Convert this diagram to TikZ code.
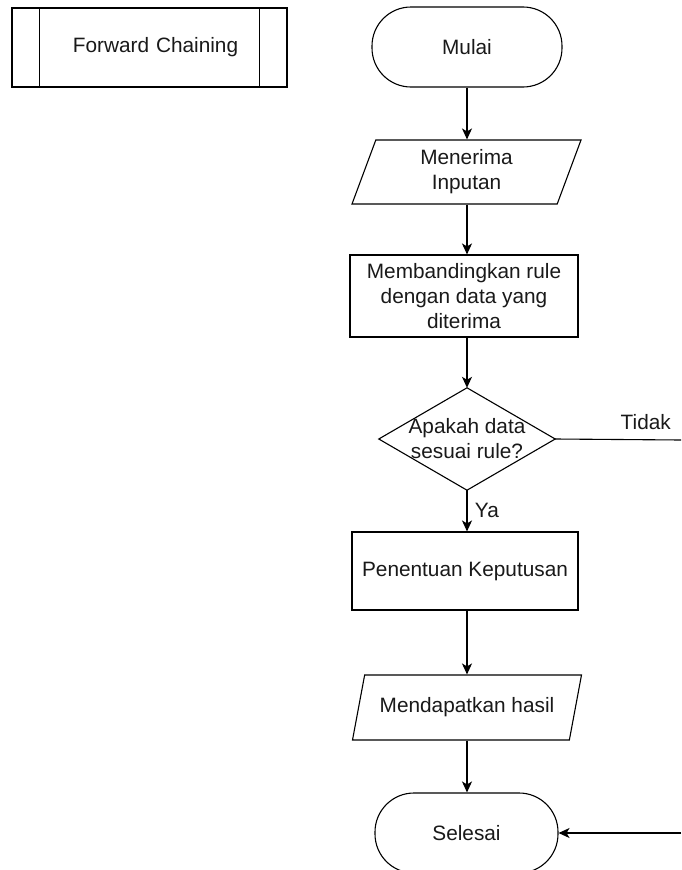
\documentclass[tikz,border=0pt]{standalone}
\usepackage{fontspec}
\setmainfont{Liberation Sans}
\usepackage{tikz}
\usetikzlibrary{calc}
\usetikzlibrary{arrows.meta}
\usetikzlibrary{shapes.geometric}

\begin{document}
\begin{tikzpicture}[x= 1pt, y= -1pt,
	every node/.style= {font= \fontsize{20.8}{25}\selectfont, align= center, text= black!90},
	garis/.style= {line width= 1.1pt},
	terminal/.style= {garis, draw, rectangle, rounded corners= 39pt, minimum width= 188pt, minimum height= 80pt},
	proses/.style= {garis, draw, rectangle, minimum width= 228pt, minimum height= 80pt},
	io/.style= {garis, draw, trapezium, trapezium left angle= 65, trapezium right angle= 115, trapezium stretches body, minimum width= 229pt, minimum height= 64pt},
	alur/.style= {line width= 1.3pt, arrows= -{Stealth[length= 11pt, width= 10pt, inset= 3pt]}}]
	\useasboundingbox (0,0) rectangle (681,870);
	\clip (0,0) rectangle (681,870);

	% sub proses
	\node [proses, minimum width= 275pt, minimum height= 79pt, text width= 250pt] (judul) at (149.5,47.5) {\hspace*{12pt}Forward Chaining};
	\draw [garis] ([xshift= 28pt]judul.north west) -- ([xshift= 28pt]judul.south west);
	\draw [garis] ([xshift= -28pt]judul.north east) -- ([xshift= -28pt]judul.south east);

	% bagan alir
	\node [terminal, minimum width= 190pt] (mulai) at (467,47) {Mulai};
	\node [io] (input) at (466.5,172) {Menerima\\Inputan};
	\node [proses, minimum height= 82pt] (banding) at (464,296) {Membandingkan rule\\dengan data yang\\diterima};
	\node [minimum width= 176pt, minimum height= 102pt, inner sep= 0pt] (cek) at (467,439) {Apakah data\\sesuai rule?};
	\draw [garis] (cek.north) -- (cek.east) -- (cek.south) -- (cek.west) -- cycle;
	\node [proses, minimum width= 226pt, minimum height= 78pt] (putusan) at (465,571) {Penentuan Keputusan};
	\node [io, minimum height= 65pt] (hasil) at (467,707.5) {Mendapatkan hasil};
	\node [terminal, minimum width= 183pt] (selesai) at (466.5,833) {Selesai};

	\coordinate (tidak) at (681,440);
	\coordinate (balik) at (681,833);

	% panah
	\draw [alur] (mulai.south -| cek.north) -- (input.north -| cek.north);
	\draw [alur] (input.south -| cek.north) -- (banding.north -| cek.north);
	\draw [alur] (banding.south -| cek.north) -- (cek.north);
	\draw [alur] (cek.south) -- (putusan.north -| cek.south) node [midway, right= 4pt] {Ya};
	\draw [alur] (putusan.south -| cek.south) -- (hasil.north -| cek.south);
	\draw [alur] (hasil.south -| cek.south) -- (selesai.north -| cek.south);
	\draw [garis] (cek.east) -- (tidak) node [pos= 0.72, above= 6pt] {Tidak};
	\draw [alur] (balik) -- (selesai.east);
\end{tikzpicture}
\end{document}
